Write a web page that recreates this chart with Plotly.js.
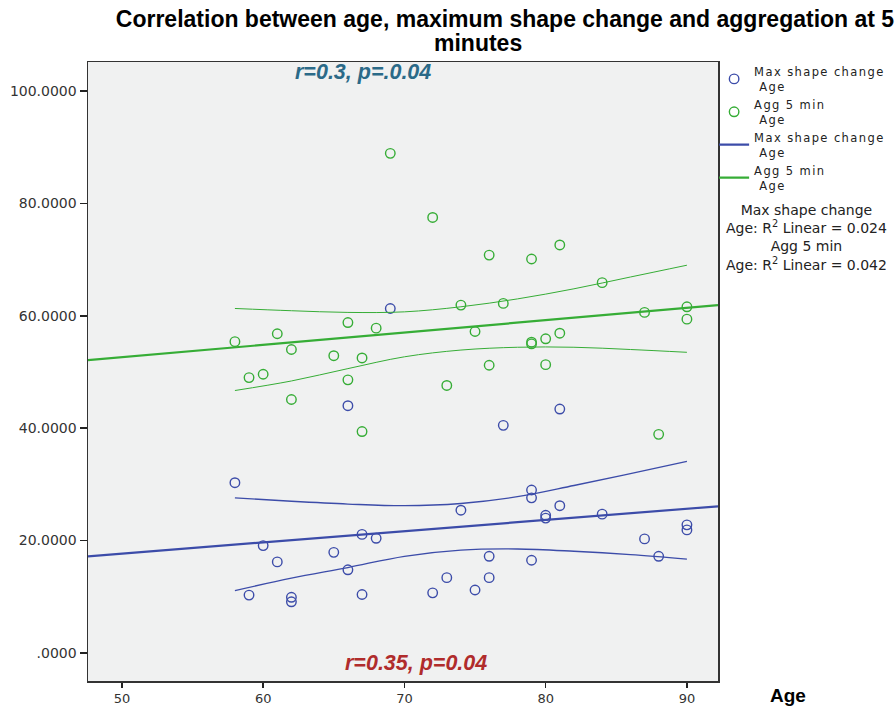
<!DOCTYPE html>
<html>
<head>
<meta charset="utf-8">
<script src="https://cdn.plot.ly/plotly-3.0.1.min.js"></script>
<style>
html,body{margin:0;padding:0;background:#fff;}
#chart{width:896px;height:709px;}
.legendtext{letter-spacing:1.4px !important;}
</style>
</head>
<body>
<div id="chart"></div>
<script>
// Age of each subject (x values, shared by both series)
const ages = [58,59,60,61,62,62,65,66,66,67,67,68,69,72,73,74,75,76,76,77,79,79,79,80,80,81,81,84,87,88,90,90];
// Max shape change values
const maxShapeChange = [30.3,10.3,19.1,16.2,9.9,9.1,17.9,44.0,14.8,21.1,10.4,20.4,61.3,10.7,13.4,25.4,11.2,17.2,13.4,40.5,29.0,27.6,16.5,24.5,24.0,43.4,26.2,24.7,20.3,17.2,22.8,21.9];
// Aggregation at 5 min values
const agg5min = [55.4,49.0,49.6,56.8,54.0,45.1,52.9,58.8,48.6,52.5,39.4,57.8,88.9,77.5,47.6,61.9,57.2,70.8,51.2,62.2,70.1,55.3,55.0,55.9,51.3,72.6,56.9,65.9,60.6,38.9,61.6,59.4];

// Linear fit lines (read at the plot edges)
const fitAges = [47.6, 92.2];
const fitMaxShape = [17.2, 26.1];
const fitAgg = [52.1, 61.9];

// 95% confidence bands of the mean
const bandAges = [58,62,66,70,74,78,82,86,90];
const maxShapeUpper = [27.6,27.0,26.5,26.2,26.6,27.8,29.8,31.9,34.1];
const maxShapeLower = [11.1,13.3,15.2,17.2,18.3,18.5,18.1,17.5,16.7];
const aggUpper = [61.3,60.9,60.6,60.7,61.6,63.0,64.8,66.9,69.0];
const aggLower = [46.7,48.4,50.6,52.7,53.9,54.4,54.4,54.0,53.5];

// Axis ticks
const xTicks = [50,60,70,80,90];
const yTicks = [0,20,40,60,80,100];
const yTickText = ['.0000','20.0000','40.0000','60.0000','80.0000','100.0000'];

const BLUE = '#3c4ca9';
const GREEN = '#36ad36';
const tickFont = {family: 'DejaVu Sans, sans-serif', size: 14, color: '#333'};
const xTickFont = {family: 'DejaVu Sans, sans-serif', size: 13, color: '#333'};

const traces = [
  {x: ages, y: maxShapeChange, type: 'scatter', mode: 'markers', name: 'Max shape change<br> Age',
   marker: {symbol: 'circle-open', size: 9.5, color: BLUE, line: {width: 1.4, color: BLUE}}},
  {x: ages, y: agg5min, type: 'scatter', mode: 'markers', name: 'Agg 5 min<br> Age',
   marker: {symbol: 'circle-open', size: 9.5, color: GREEN, line: {width: 1.4, color: GREEN}}},
  {x: fitAges, y: fitMaxShape, type: 'scatter', mode: 'lines', name: 'Max shape change<br> Age',
   line: {color: BLUE, width: 2.2}},
  {x: fitAges, y: fitAgg, type: 'scatter', mode: 'lines', name: 'Agg 5 min<br> Age',
   line: {color: GREEN, width: 2.2}},
  {x: bandAges, y: maxShapeUpper, type: 'scatter', mode: 'lines', showlegend: false,
   line: {color: BLUE, width: 1.3, shape: 'spline'}},
  {x: bandAges, y: maxShapeLower, type: 'scatter', mode: 'lines', showlegend: false,
   line: {color: BLUE, width: 1.3, shape: 'spline'}},
  {x: bandAges, y: aggUpper, type: 'scatter', mode: 'lines', showlegend: false,
   line: {color: GREEN, width: 1, shape: 'spline'}},
  {x: bandAges, y: aggLower, type: 'scatter', mode: 'lines', showlegend: false,
   line: {color: GREEN, width: 1, shape: 'spline'}}
];

const titleFont = {family: 'Liberation Sans, Arial, sans-serif', size: 23, color: '#000'};

const layout = {
  width: 896, height: 709,
  margin: {l: 88, r: 178, t: 62, b: 28, autoexpand: false},
  paper_bgcolor: '#ffffff',
  plot_bgcolor: '#f0f1f1',
  title: {
    text: '<b>Correlation between age, maximum shape change and aggregation at 5</b>',
    font: titleFont,
    x: 0.5636, xanchor: 'center', xref: 'container',
    y: 0.973, yanchor: 'middle', yref: 'container'
  },
  xaxis: {
    range: [47.6, 92.2], tickmode: 'array', tickvals: xTicks,
    ticks: 'outside', ticklen: 5, tickwidth: 1.5, tickcolor: '#222',
    showline: true, linecolor: '#333', linewidth: 1.5, mirror: true,
    showgrid: false, zeroline: false, tickfont: xTickFont
  },
  yaxis: {
    range: [-4.99, 105.16], tickmode: 'array', tickvals: yTicks, ticktext: yTickText,
    ticks: 'outside', ticklen: 7, tickwidth: 1.5, tickcolor: '#222',
    showline: true, linecolor: '#333', linewidth: 1.5, mirror: true,
    showgrid: false, zeroline: false, tickfont: tickFont
  },
  legend: {
    xref: 'container', yref: 'container',
    x: 0.797, xanchor: 'left', y: 0.919, yanchor: 'top',
    bgcolor: 'rgba(0,0,0,0)', borderwidth: 0, tracegroupgap: 0,
    font: {family: 'DejaVu Sans, sans-serif', size: 11.5, color: '#222'},
    itemwidth: 30
  },
  showlegend: true,
  annotations: [
    {text: '<b>minutes</b>', xref: 'paper', yref: 'paper', x: 0.619, y: 1.030,
     xanchor: 'center', yanchor: 'middle', showarrow: false, font: titleFont},
    {text: '<b><i>r=0.3, p=.0.04</i></b>', xref: 'x', yref: 'paper', x: 67.06, y: 0.984,
     xanchor: 'center', yanchor: 'middle', showarrow: false,
     font: {family: 'Liberation Sans, Arial, sans-serif', size: 21.5, color: '#2b6a88'}},
    {text: '<b><i>r=0.35, p=0.04</i></b>', xref: 'x', yref: 'paper', x: 70.8, y: 0.029,
     xanchor: 'center', yanchor: 'middle', showarrow: false,
     font: {family: 'Liberation Sans, Arial, sans-serif', size: 21.5, color: '#b02c2c'}},
    {text: '<b>Age</b>', xref: 'paper', yref: 'paper', x: 1.111, y: -0.024,
     xanchor: 'center', yanchor: 'middle', showarrow: false,
     font: {family: 'Liberation Sans, Arial, sans-serif', size: 19, color: '#000'}},
    {text: 'Max shape change<br>Age: R<sup>2</sup> Linear = 0.024<br>Agg 5 min<br>Age: R<sup>2</sup> Linear = 0.042',
     xref: 'paper', yref: 'paper', x: 1.14, y: 0.717, xanchor: 'center', yanchor: 'middle', align: 'center',
     showarrow: false, font: {family: 'DejaVu Sans, sans-serif', size: 14, color: '#222'}}
  ]
};

Plotly.newPlot('chart', traces, layout, {displayModeBar: false, staticPlot: true});
</script>
</body>
</html>
